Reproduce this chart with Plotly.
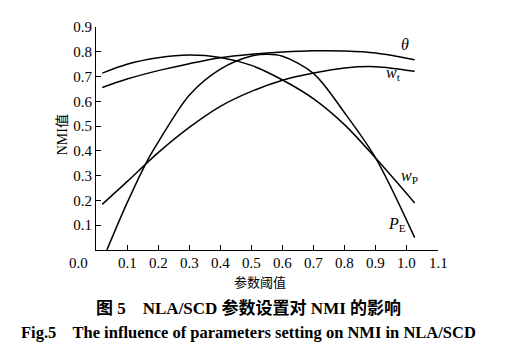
import plotly.graph_objects as go

# Data
theta_x = [0.02, 0.1, 0.2, 0.3, 0.4, 0.5, 0.6, 0.7, 0.8, 0.9, 1.025]
theta_y = [0.656, 0.69, 0.724, 0.752, 0.776, 0.79, 0.799, 0.804, 0.803, 0.795, 0.768]

wt_x = [0.02, 0.1, 0.2, 0.3, 0.4, 0.5, 0.6, 0.7, 0.8, 0.9, 1.025]
wt_y = [0.184, 0.276, 0.393, 0.495, 0.58, 0.64, 0.685, 0.714, 0.735, 0.74, 0.721]

wp_x = [0.02, 0.1, 0.2, 0.3, 0.4, 0.5, 0.6, 0.7, 0.8, 0.9, 1.025]
wp_y = [0.714, 0.75, 0.776, 0.787, 0.777, 0.745, 0.686, 0.61, 0.505, 0.37, 0.19]

pe_x = [0.035, 0.1, 0.162, 0.2, 0.3, 0.4, 0.5, 0.55, 0.6, 0.7, 0.8, 0.9, 1.025]
pe_y = [0.0, 0.19, 0.353, 0.435, 0.625, 0.73, 0.783, 0.79, 0.782, 0.712, 0.553, 0.37, 0.05]

x_ticks = [0.1, 0.2, 0.3, 0.4, 0.5, 0.6, 0.7, 0.8, 0.9, 1.0, 1.1]
y_ticks = [0.1, 0.2, 0.3, 0.4, 0.5, 0.6, 0.7, 0.8, 0.9]

serif = "Liberation Serif, Times New Roman, serif"
cjk = "Noto Sans CJK SC, sans-serif"

fig = go.Figure()
for xs, ys in [(theta_x, theta_y), (wt_x, wt_y), (wp_x, wp_y), (pe_x, pe_y)]:
    fig.add_trace(go.Scatter(x=xs, y=ys, mode="lines",
                             line=dict(color="black", width=1.5, shape="spline", smoothing=0.9),
                             showlegend=False, hoverinfo="skip"))

labels = [
    (0.994, 0.83, "<i>θ</i>"),
    (0.958, 0.712, "<i>w</i><sub>t</sub>"),
    (1.007, 0.298, "<i>w</i><sub>P</sub>"),
    (0.968, 0.104, "<i>P</i><sub>E</sub>"),
]
ann = []
for lx, ly, t in labels:
    ann.append(dict(x=lx, y=ly, xref="x", yref="y", text=t, showarrow=False,
                    font=dict(family=serif, size=16, color="black")))

# x tick labels placed close under the axis
for v in x_ticks:
    ann.append(dict(x=v, y=0, xref="x", yref="y", text=f"{v:.1f}", showarrow=False,
                    yshift=-13, yanchor="middle",
                    font=dict(family=serif, size=15, color="black")))

ann += [
    dict(x=-0.018, y=0, xref="paper", yref="y", text="0.0", showarrow=False, yshift=-13,
         xanchor="right", yanchor="middle", font=dict(family=serif, size=15, color="black")),
    dict(x=0.48, y=-0.143, xref="paper", yref="paper", text="参数阈值", showarrow=False,
         yanchor="middle", font=dict(family=cjk, size=13, color="black")),
    dict(x=0.447, y=-0.26, xref="paper", yref="paper",
         text="<b>图 5    NLA/SCD 参数设置对 NMI 的影响</b>", showarrow=False,
         yanchor="middle", font=dict(family=serif + ", " + cjk, size=17, color="black")),
    dict(x=0.447, y=-0.372, xref="paper", yref="paper",
         text="<b>Fig.5    The influence of parameters setting on NMI in NLA/SCD</b>", showarrow=False,
         yanchor="middle", font=dict(family=serif, size=16.5, color="black")),
    dict(x=-0.099, y=0.515, xref="paper", yref="paper", text="NMI值", showarrow=False,
         textangle=-90, xanchor="center", yanchor="middle",
         font=dict(family=serif + ", " + cjk, size=14, color="black")),
]

fig.update_layout(
    width=504, height=339,
    margin=dict(l=88, r=74, t=11, b=97),
    paper_bgcolor="white", plot_bgcolor="white",
    annotations=ann,
    xaxis=dict(range=[0, 1.1], tickvals=x_ticks, showticklabels=False,
               ticks="inside", ticklen=5, tickcolor="black", showline=True, linecolor="black",
               linewidth=1.2, showgrid=False, zeroline=False),
    yaxis=dict(range=[0, 0.9], tickvals=y_ticks, ticktext=[f"{v:.1f}" for v in y_ticks],
               ticks="inside", ticklen=5, tickcolor="black", showline=True, linecolor="black",
               linewidth=1.2, showgrid=False, zeroline=False,
               tickfont=dict(family=serif, size=15, color="black")),
)

fig.write_html("out.html")
